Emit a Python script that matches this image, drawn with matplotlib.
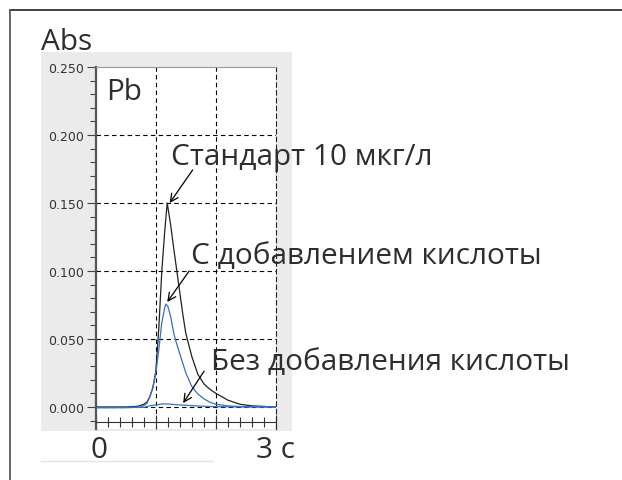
import numpy as np
import matplotlib
matplotlib.use("Agg")
import matplotlib.pyplot as plt
from matplotlib.patches import Rectangle
from matplotlib.lines import Line2D
from matplotlib.ticker import MultipleLocator, FormatStrFormatter

# Absorbance signals of Pb (time in s, absorbance)
t_standard = [0.0, 0.5, 0.7, 0.8, 0.85, 0.9, 0.95, 1.0, 1.05, 1.1, 1.15, 1.19,
              1.25, 1.3, 1.35, 1.4, 1.45, 1.5, 1.6, 1.7, 1.8, 1.9, 2.0, 2.2,
              2.4, 2.6, 3.0]
abs_standard = [0.0, 0.0, 0.0005, 0.002, 0.0035, 0.0075, 0.014, 0.026, 0.058,
                0.100, 0.130, 0.150, 0.133, 0.116, 0.100, 0.084, 0.068, 0.054,
                0.037, 0.024, 0.017, 0.013, 0.010, 0.005, 0.002, 0.0008, 0.0]

t_acid = [0.0, 0.5, 0.75, 0.8, 0.85, 0.9, 0.95, 1.0, 1.05, 1.1, 1.15, 1.17,
          1.2, 1.25, 1.3, 1.35, 1.4, 1.5, 1.6, 1.7, 1.8, 1.9, 2.0, 2.2, 2.4,
          3.0]
abs_acid = [-0.0005, -0.0005, 0.0, 0.001, 0.0025, 0.0075, 0.014, 0.025, 0.042,
            0.062, 0.0735, 0.0757, 0.074, 0.066, 0.054, 0.046, 0.039, 0.025,
            0.015, 0.0095, 0.006, 0.0035, 0.002, 0.0008, 0.0003, 0.0]

t_noacid = [0.0, 0.8, 0.9, 1.0, 1.1, 1.2, 1.3, 1.4, 1.6, 1.8, 2.0, 2.5, 3.0]
abs_noacid = [-0.0005, -0.0003, 0.0008, 0.0015, 0.0022, 0.0022, 0.0018,
              0.0015, 0.001, 0.0005, 0.0002, 0.0, 0.0]

label_standard = "Стандарт 10 мкг/л"
label_acid = "С добавлением кислоты"
label_noacid = "Без добавления кислоты"

W, H = 622, 481
fig = plt.figure(figsize=(W / 100, H / 100), dpi=100)


def fx(x):
    return x / W


def fy(y):
    return 1 - y / H


# grey instrument panel behind the plot
fig.patches.append(Rectangle((fx(41), fy(432)), fx(292) - fx(41), fy(53) - fy(432),
                             transform=fig.transFigure, facecolor="#ebebeb",
                             edgecolor="none", zorder=-2))
fig.lines.append(Line2D([fx(41), fx(213)], [fy(462), fy(462)],
                        transform=fig.transFigure, color="#e4e4e4", lw=1))

# outer frame (top and left edges)
fig.lines.append(Line2D([fx(10), 1.0], [fy(11), fy(11)], transform=fig.transFigure,
                        color="#333333", lw=1.3))
fig.lines.append(Line2D([fx(10), fx(10)], [fy(11), 0.0], transform=fig.transFigure,
                        color="#5e5664", lw=1.3))

ax = fig.add_axes([fx(95.7), fy(430), fx(276) - fx(95.7), fy(68) - fy(430)])
ax.set_facecolor("white")
ax.set_xlim(0, 3)
ax.set_ylim(-0.0162, 0.25)

dash = (0, (4, 3))
for yv in [0.0, 0.05, 0.10, 0.15, 0.20]:
    ax.axhline(yv, color="black", lw=0.8, ls=dash, zorder=1)
for xv in [1, 2]:
    ax.axvline(xv, color="black", lw=0.8, ls=dash, zorder=1)

ax.plot(t_standard, abs_standard, color="#222222", lw=0.9, zorder=3)
ax.plot(t_acid, abs_acid, color="#3b6fc4", lw=0.9, zorder=3)
ax.plot(t_noacid, abs_noacid, color="#3b6fc4", lw=0.9, zorder=3)

# spines
ax.spines["left"].set_color("#555555")
ax.spines["left"].set_linewidth(1.6)
ax.spines["top"].set_color("#9a9a9a")
ax.spines["top"].set_linewidth(0.8)
ax.spines["right"].set_color("#222222")
ax.spines["right"].set_linewidth(0.8)
ax.spines["right"].set_linestyle(dash)
ax.spines["bottom"].set_position(("data", -0.011))
ax.spines["bottom"].set_color("#333333")
ax.spines["bottom"].set_linewidth(0.8)

ax.yaxis.set_major_locator(MultipleLocator(0.05))
ax.yaxis.set_minor_locator(MultipleLocator(0.01))
ax.yaxis.set_major_formatter(FormatStrFormatter("%.3f"))
ax.tick_params(axis="y", which="major", direction="out", length=6.5, width=0.8,
               color="#444444", labelsize=9, labelcolor="#333333", pad=1.8)
ax.tick_params(axis="y", which="minor", direction="out", length=4.3, width=0.8,
               color="#444444")

ax.xaxis.set_major_locator(MultipleLocator(1))
ax.xaxis.set_minor_locator(MultipleLocator(0.2))
ax.tick_params(axis="x", which="major", direction="inout", length=10.5, width=0.8,
               color="#333333", labelbottom=False)
ax.tick_params(axis="x", which="minor", direction="inout", length=6.5, width=0.8,
               color="#333333")

# arrows pointing at the peaks
i_std = int(np.argmax(abs_standard))
i_acid = int(np.argmax(abs_acid))
t_na = 1.455
v_na = float(np.interp(t_na, t_noacid, abs_noacid))
arrow_kw = dict(arrowstyle="->", color="black", lw=0.9, shrinkA=0, shrinkB=0,
                mutation_scale=14)
ax.annotate("", xy=(t_standard[i_std] + 0.04, abs_standard[i_std]),
            xytext=(16.6, 23.8), textcoords="offset points", arrowprops=arrow_kw)
ax.annotate("", xy=(t_acid[i_acid] + 0.02, abs_acid[i_acid] + 0.0015),
            xytext=(15.8, 22.3), textcoords="offset points", arrowprops=arrow_kw)
ax.annotate("", xy=(t_na, v_na + 0.0015),
            xytext=(15.1, 23.0), textcoords="offset points", arrowprops=arrow_kw)

big = dict(family=["Open Sans", "DejaVu Sans"], size=21.4, color="#2e2e2e",
           va="baseline", ha="left")
fig.text(fx(41), fy(50), "Abs", **big)
fig.text(fx(106), fy(100), "Pb", **big)
fig.text(fx(171), fy(165), label_standard, **big)
fig.text(fx(191), fy(264), label_acid, **big)
fig.text(fx(211), fy(370), label_noacid, **big)
fig.text(fx(91), fy(458), "0", **big)
fig.text(fx(256), fy(458), "3 с", **big)

fig.savefig("out.png", dpi=100)
